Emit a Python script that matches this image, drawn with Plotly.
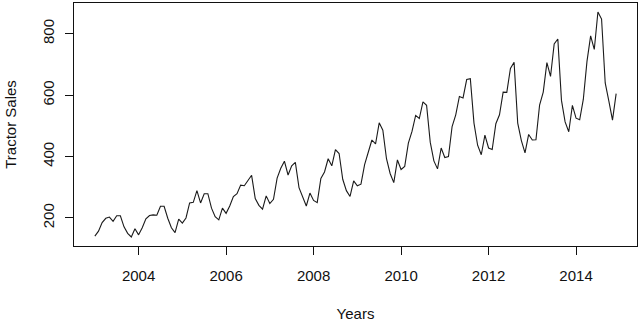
import plotly.graph_objects as go

years = list(range(2003, 2015))
sales_by_year = [
    [141, 157, 185, 199, 203, 189, 207, 207, 171, 150, 138, 165],
    [145, 168, 197, 208, 210, 209, 238, 238, 199, 168, 152, 196],
    [183, 200, 249, 251, 289, 249, 279, 279, 232, 204, 194, 232],
    [215, 239, 270, 279, 307, 305, 322, 339, 263, 241, 229, 272],
    [247, 261, 330, 362, 385, 340, 370, 381, 299, 266, 239, 281],
    [257, 250, 329, 350, 393, 370, 423, 410, 326, 289, 270, 321],
    [305, 310, 374, 414, 454, 441, 510, 486, 393, 345, 315, 389],
    [358, 368, 444, 482, 534, 524, 578, 567, 447, 386, 360, 428],
    [397, 400, 498, 536, 596, 591, 651, 654, 509, 437, 406, 470],
    [428, 423, 507, 536, 610, 609, 687, 707, 509, 452, 412, 472],
    [454, 455, 568, 610, 706, 661, 767, 783, 583, 513, 481, 567],
    [525, 520, 587, 710, 793, 749, 871, 848, 640, 581, 519, 605],
]
x_ticks = [2004, 2006, 2008, 2010, 2012, 2014]
y_ticks = [200, 400, 600, 800]

t = []
v = []
for y, row in zip(years, sales_by_year):
    for m, val in enumerate(row):
        t.append(y + m / 12)
        v.append(val)

xmin, xmax = min(t), max(t)
ymin, ymax = min(v), max(v)
xpad = (xmax - xmin) * 0.04
ypad = (ymax - ymin) * 0.04

font = dict(family="Liberation Sans, Arial, sans-serif", size=15, color="#111111")

fig = go.Figure(go.Scatter(x=t, y=v, mode="lines",
                           line=dict(color="#1a1a1a", width=1.1)))
fig.update_layout(
    width=640, height=322,
    margin=dict(l=74, r=2, t=2, b=74),
    paper_bgcolor="white", plot_bgcolor="white",
    showlegend=False, font=font,
)
fig.update_xaxes(range=[xmin - xpad, xmax + xpad], tickvals=x_ticks,
                 ticktext=[str(x) for x in x_ticks],
                 showgrid=False, zeroline=False, showline=True, mirror=True,
                 linecolor="#111111", linewidth=1, ticks="outside", ticklen=8,
                 tickcolor="#111111", tickfont=font, ticklabelstandoff=8,
                 title=dict(text="Years", font=font, standoff=25))
fig.update_yaxes(range=[ymin - ypad, ymax + ypad], tickvals=y_ticks,
                 ticktext=[str(y) for y in y_ticks], tickangle=-90,
                 showgrid=False, zeroline=False, showline=True, mirror=True,
                 linecolor="#111111", linewidth=1, ticks="outside", ticklen=8,
                 tickcolor="#111111", tickfont=font, ticklabelstandoff=5,
                 title=dict(text="Tractor Sales", font=font, standoff=19))
fig.write_html("out.html")
